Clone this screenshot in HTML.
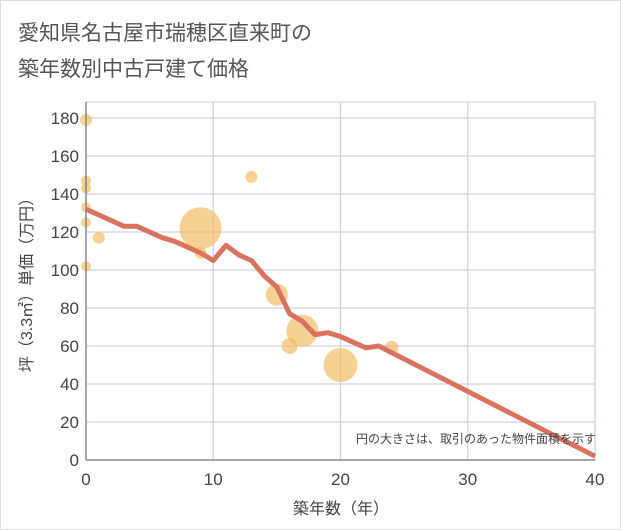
<!DOCTYPE html>
<html><head><meta charset="utf-8"><style>
body{margin:0;background:#fff;}
svg{display:block;font-family:"Liberation Sans","Noto Sans CJK JP",sans-serif;}
</style></head><body>
<svg id="c" width="621" height="530">
<rect x="0.5" y="0.5" width="620" height="529" fill="#fff" stroke="#ddd"/>
<text x="18" y="40" font-size="21" fill="#555">愛知県名古屋市瑞穂区直来町の</text>
<text x="18" y="76" font-size="21" fill="#555">築年数別中古戸建て価格</text>
<g id="grid"></g><g id="marks"></g><g id="axes"></g>
<text x="596" y="443" font-size="12" fill="#444" text-anchor="end">円の大きさは、取引のあった物件面積を示す</text>
<text x="341" y="514" font-size="16" fill="#444" text-anchor="middle">築年数（年）</text>
<text transform="translate(32,281) rotate(-90)" font-size="16" fill="#444" text-anchor="middle">坪（3.3㎡）単価（万円）</text>
</svg>
<script>
const xTicks=[0,10,20,30,40];
const yTicks=[0,20,40,60,80,100,120,140,160,180];
const lineX=[0,1,2,3,4,5,6,7,8,9,10,11,12,13,14,15,16,17,18,19,20,21,22,23,40];
const lineY=[132,129,126,123,123,120,117,115,112,109,105,113,108,105,97,91,77,73,66,67,65,62,59,60,2];
const ptX=[0,0,0,0,0,0,1,9,9,13,15,16,17,20,24];
const ptY=[179,147,143,133,125,102,117,122,109,149,87,60,68,50,59];
const ptR=[6,5,5,5,5,5,6,21,6,6,11,8,16,17,7];
const L=86,R=595,T=102,B=460;
const sx=v=>L+(v-0)/40*(R-L);
const sy=v=>B-v/180*(B-118);
const NS="http://www.w3.org/2000/svg";
function mk(t,a,p){const e=document.createElementNS(NS,t);for(const k in a)e.setAttribute(k,a[k]);p.appendChild(e);return e;}
const g=document.getElementById('grid'),m=document.getElementById('marks'),ax=document.getElementById('axes');
yTicks.forEach(v=>{if(v===0)return;const l=mk('line',{x1:L,x2:R,y1:sy(v),y2:sy(v),stroke:'#c9d3df','stroke-width':1.3},g);

});
xTicks.forEach(v=>{if(v===0)return;const l=mk('line',{x1:sx(v),x2:sx(v),y1:T,y2:B,stroke:'#c9d3df','stroke-width':1.3},g);

});
const fr=mk('rect',{x:L,y:T,width:R-L,height:B-T,fill:'none',stroke:'#c9d3df','stroke-width':1},g);


ptX.forEach((x,i)=>{const c=mk('circle',{cx:sx(x),cy:sy(ptY[i]),r:ptR[i],fill:'#f2b85a','fill-opacity':0.65},m);

});
const pl=mk('polyline',{points:lineX.map((x,i)=>sx(x)+','+sy(lineY[i])).join(' '),fill:'none',stroke:'#d9735f','stroke-width':5,'stroke-linejoin':'round'},m);


const ya=mk('line',{x1:L,x2:L,y1:T,y2:B,stroke:'#888','stroke-width':1.5},ax);


const xa=mk('line',{x1:L,x2:R,y1:B,y2:B,stroke:'#888','stroke-width':1.5},ax);


yTicks.forEach(v=>{const t=mk('text',{x:L-7,y:sy(v)+6,'font-size':17,fill:'#444','text-anchor':'end'},ax);t.textContent=v;

});
xTicks.forEach(v=>{const t=mk('text',{x:sx(v),y:485,'font-size':17,fill:'#444','text-anchor':'middle'},ax);t.textContent=v;

});
</script>
</body></html>
